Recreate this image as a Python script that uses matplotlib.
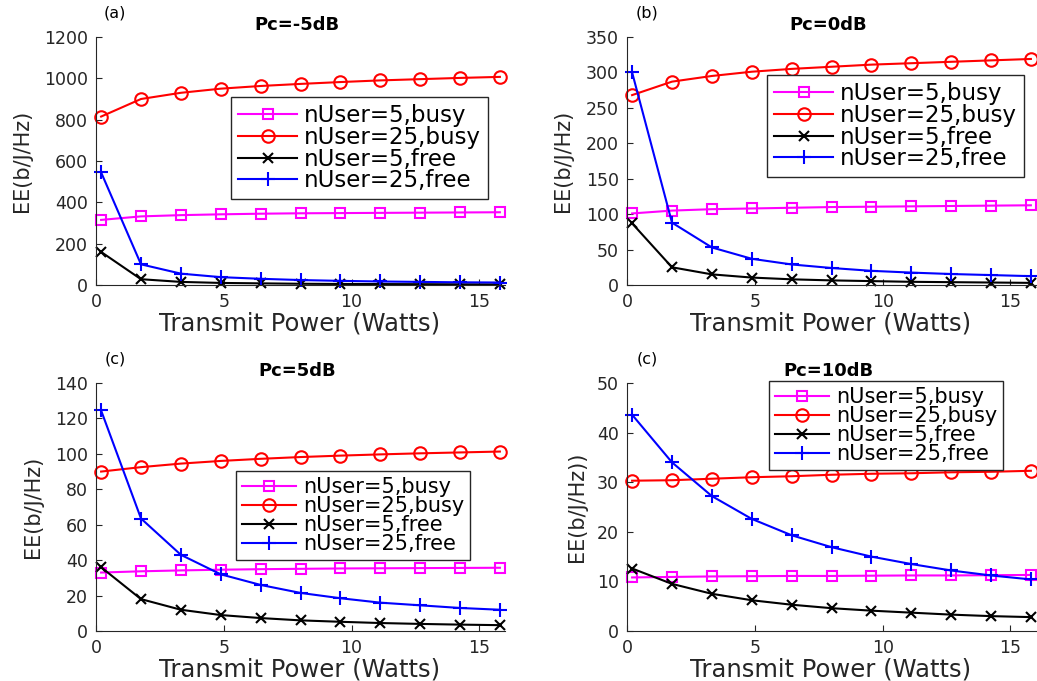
import matplotlib
matplotlib.use("Agg")
import matplotlib.pyplot as plt
import numpy as np

# transmit power samples (Watts)
power = [0.2, 1.76, 3.32, 4.88, 6.44, 8.0, 9.56, 11.12, 12.68, 14.24, 15.8]

labels = ["nUser=5,busy", "nUser=25,busy", "nUser=5,free", "nUser=25,free"]

# Pc=-5dB
a_busy5 = [315, 332, 338, 342, 345, 347, 348, 349, 350, 351, 352]
a_busy25 = [815, 900, 930, 950, 963, 973, 982, 990, 996, 1002, 1007]
a_free5 = [160, 28, 15, 10, 8, 6, 5, 4.5, 4, 3.5, 3]
a_free25 = [545, 100, 55, 38, 30, 24, 20, 17, 15, 13, 12]

# Pc=0dB
b_busy5 = [101, 105, 107, 108, 109, 110, 110.5, 111, 111.5, 112, 112.5]
b_busy25 = [268, 287, 295, 301, 305, 308, 311, 313, 315, 317, 319]
b_free5 = [87, 25, 15, 10.5, 8, 6.5, 5.5, 4.5, 4, 3.5, 3]
b_free25 = [300, 88, 53, 37, 29, 24, 20, 17.5, 15.5, 14, 12.5]

# Pc=5dB
c_busy5 = [33, 33.7, 34.2, 34.6, 34.9, 35.1, 35.3, 35.4, 35.5, 35.6, 35.7]
c_busy25 = [90, 92.5, 94.5, 96, 97.2, 98.2, 99, 99.7, 100.3, 100.8, 101.3]
c_free5 = [36, 18, 12, 9, 7.3, 6, 5.2, 4.5, 4, 3.6, 3.3]
c_free25 = [124.5, 63.5, 43, 32, 26, 21.5, 18.5, 16, 14.5, 13, 12]

# Pc=10dB
d_busy5 = [10.8, 10.9, 11.0, 11.05, 11.1, 11.1, 11.15, 11.2, 11.2, 11.25, 11.3]
d_busy25 = [30.3, 30.4, 30.7, 31.0, 31.2, 31.5, 31.7, 31.8, 32.0, 32.1, 32.3]
d_free5 = [12.6, 9.5, 7.5, 6.2, 5.3, 4.6, 4.1, 3.7, 3.3, 3.0, 2.8]
d_free25 = [43.6, 34.0, 27.2, 22.6, 19.3, 16.9, 15.0, 13.5, 12.2, 11.2, 10.4]

W, H = 1037, 681
fig = plt.figure(figsize=(W / 100, H / 100), dpi=100)


def px(x, y):
    return x / W, 1 - y / H


panels = [
    # left, top, series, yticks, title, tag, ylabel, legend box (x, y), legend size
    (96, 37, [a_busy5, a_busy25, a_free5, a_free25], np.arange(0, 1201, 200),
     "Pc=-5dB", "(a)", "EE(b/J/Hz)", (231, 97), 16.5, (297, 25), (115, 13), 22),
    (627, 37, [b_busy5, b_busy25, b_free5, b_free25], np.arange(0, 351, 50),
     "Pc=0dB", "(b)", "EE(b/J/Hz)", (767, 75), 16.5, (828, 25), (647, 13), 563),
    (96, 383, [c_busy5, c_busy25, c_free5, c_free25], np.arange(0, 141, 20),
     "Pc=5dB", "(c)", "EE(b/J/Hz)", (236, 471), 15, (297, 371), (115, 359), 33),
    (627, 383, [d_busy5, d_busy25, d_free5, d_free25], np.arange(0, 51, 10),
     "Pc=10dB", "(c)", "EE(b/J/Hz))", (769, 381), 15, (828, 371), (647, 359), 577),
]

styles = [
    dict(color="#ff00ff", marker="s", markersize=7, mfc="none"),
    dict(color="red", marker="o", markersize=9, mfc="none"),
    dict(color="black", marker="x", markersize=7),
    dict(color="blue", marker="+", markersize=10),
]

for (left, top, series, yticks, title, tag, ylab, leg_xy, leg_fs,
     title_xy, tag_xy, ylab_x) in panels:
    aw, ah = 409, 248
    ax = fig.add_axes([left / W, 1 - (top + ah) / H, aw / W, ah / H])
    for vals, lab, st in zip(series, labels, styles):
        ax.plot(power, vals, label=lab, linewidth=1.5, markeredgewidth=1.5,
                clip_on=False, **st)
    ax.set_xlim(0, 16)
    ax.set_ylim(yticks[0], yticks[-1])
    ax.set_xticks([0, 5, 10, 15])
    ax.set_yticks(yticks)
    ax.tick_params(direction="in", length=4, labelsize=12.5, colors="#262626",
                   pad=6)
    ax.spines["top"].set_visible(False)
    ax.spines["right"].set_visible(False)
    for s in ("left", "bottom"):
        ax.spines[s].set_color("#262626")

    fig.text(*px(*title_xy), title, ha="center", va="center",
             fontsize=13, fontweight="bold")
    fig.text(*px(*tag_xy), tag, ha="center", va="center", fontsize=11.5)
    fig.text(*px(ylab_x, top + ah / 2), ylab, ha="center", va="center",
             rotation=90, fontsize=15, color="#262626")
    fig.text(*px(left + 204, top + ah + 38), "Transmit Power (Watts)",
             ha="center", va="center", fontsize=17.5, color="#262626")

    leg = ax.legend(loc="upper left", bbox_to_anchor=px(*leg_xy),
                    bbox_transform=fig.transFigure, fontsize=leg_fs,
                    handlelength=2.6, handletextpad=0.3, labelspacing=-0.05,
                    borderpad=0.3, borderaxespad=0, fancybox=False,
                    framealpha=1)
    leg.get_frame().set_edgecolor("#262626")
    leg.get_frame().set_linewidth(1.0)

fig.savefig("out.png", dpi=100)
